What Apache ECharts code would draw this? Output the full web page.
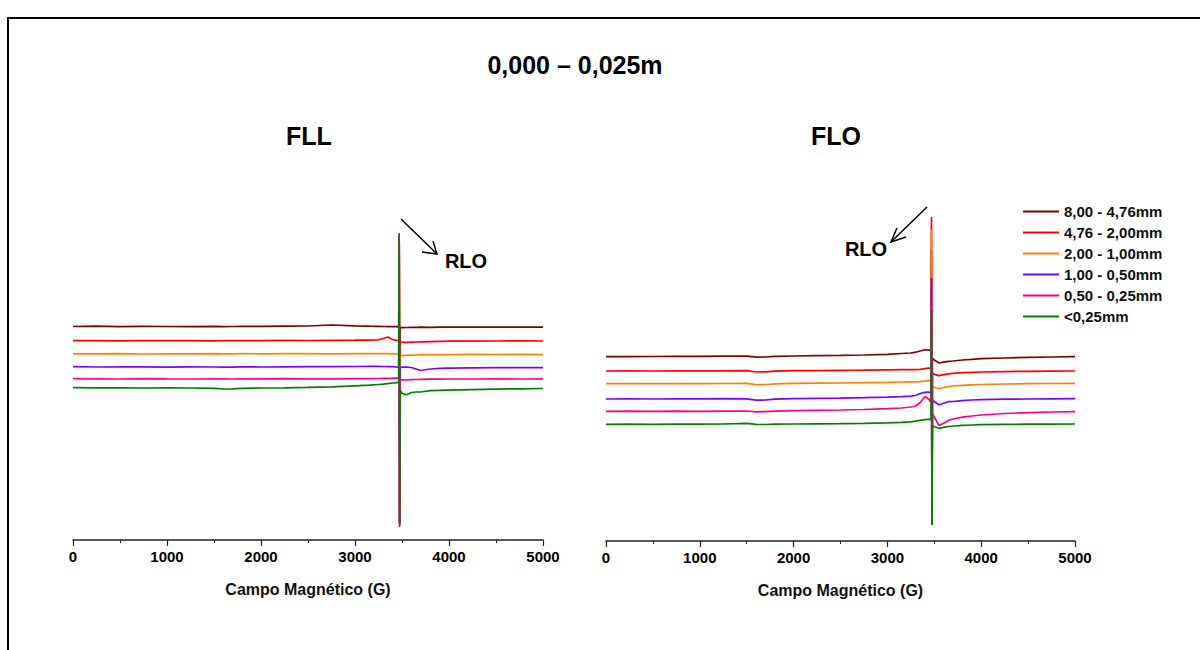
<!DOCTYPE html>
<html>
<head>
<meta charset="utf-8">
<title>EPR – 0,000 – 0,025m</title>
<script src="https://cdn.jsdelivr.net/npm/echarts@6/dist/echarts.min.js"></script>
<style>
  html, body { margin: 0; padding: 0; background: #fff; }
  #chart { width: 1200px; height: 650px; }
</style>
</head>
<body>
<div id="chart"></div>
<script>
// Magnetic field (G) sampling points shared by every spectrum
const fieldG = [0, 250, 500, 750, 1000, 1250, 1500, 1600, 1700, 1800, 2000, 2250, 2500, 2750, 3000,
  3150, 3250, 3300, 3350, 3400, 3440, 3465, 3470, 3475, 3480, 3500, 3550, 3600, 3650, 3700,
  3800, 3900, 4000, 4250, 4500, 4750, 5000];

// Particle-size fractions
const fractionLabels = ['8,00 - 4,76mm', '4,76 - 2,00mm', '2,00 - 1,00mm', '1,00 - 0,50mm', '0,50 - 0,25mm', '<0,25mm'];
const fractionColors = ['#800000', '#ff0000', '#ff8000', '#8000ff', '#ff0080', '#008000'];

// Field axis tick labels
const fieldTicks = [0, 1000, 2000, 3000, 4000, 5000];

// FLL spectra (signal intensity, a.u., offset per fraction)
const fll_800_476 = [213.5, 213.8, 213.4, 213.6, 213.5, 213.3, 213.6, 213.4, 213.5, 213.7, 213.6, 213.8, 214.0, 215.0, 214.2,
  213.8, 213.6, 213.5, 213.4, 213.4, 213.3, 213.2, 305, 18, 212.6, 212.4, 212.5, 212.7, 212.6, 212.8,
  212.7, 212.9, 212.8, 213.0, 212.8, 213.0, 212.9];
const fll_476_200 = [199.3, 199.4, 199.2, 199.5, 199.3, 199.4, 199.2, 199.3, 199.5, 199.3, 199.4, 199.6, 199.5, 199.7, 199.8,
  199.9, 200.2, 201.5, 203.0, 200.5, 199.6, 199.5, 303, 17, 198.0, 197.8, 197.6, 197.8, 198.0, 198.2,
  198.4, 198.6, 198.8, 198.9, 199.0, 199.1, 199.0];
const fll_200_100 = [186.2, 186.1, 186.3, 186.0, 186.2, 186.1, 186.3, 186.2, 186.1, 186.3, 186.2, 186.4, 186.3, 186.2, 186.4,
  186.3, 186.5, 186.4, 186.3, 186.2, 186.0, 185.8, 300, 16, 184.5, 184.4, 184.6, 184.8, 185.0, 185.1,
  185.3, 185.4, 185.5, 185.6, 185.5, 185.6, 185.5];
const fll_100_050 = [173.3, 173.0, 173.2, 173.1, 172.9, 173.1, 173.0, 172.8, 172.9, 173.1, 173.0, 173.2, 173.3, 173.4, 173.5,
  173.6, 173.6, 173.5, 173.4, 173.3, 173.0, 172.5, 302, 15, 172.5, 172.8, 172.9, 172.5, 171.0, 169.5,
  171.0, 171.6, 171.9, 172.2, 172.4, 172.5, 172.4];
const fll_050_025 = [161.4, 161.2, 161.0, 161.3, 161.1, 161.0, 161.2, 161.1, 161.0, 161.2, 161.1, 161.3, 161.2, 161.1, 161.3,
  161.4, 161.5, 161.6, 161.7, 161.8, 161.9, 162.0, 298, 17, 160.0, 160.2, 160.0, 160.3, 160.5, 160.7,
  160.8, 160.9, 161.0, 161.0, 161.1, 161.0, 161.1];
const fll_lt025 = [152.3, 152.1, 152.2, 152.0, 152.1, 152.0, 151.6, 151.0, 151.2, 151.7, 152.0, 152.2, 152.6, 153.2, 154.2,
  154.8, 155.5, 155.8, 156.3, 157.0, 157.4, 157.5, 307, 13, 150.0, 146.5, 145.2, 147.5, 148.0, 148.0,
  149.3, 149.6, 149.9, 150.4, 150.9, 151.2, 151.5];

// FLO spectra (signal intensity, a.u., offset per fraction)
const flo_800_476 = [184.3, 184.4, 184.5, 184.6, 184.7, 184.8, 184.9, 183.9, 184.0, 184.6, 185.0, 185.3, 185.6, 186.0, 186.6,
  187.5, 188.0, 188.8, 190.0, 191.2, 191.0, 190.2, 291, 20, 183.0, 181.0, 178.0, 178.8, 179.6, 180.0,
  181.0, 181.6, 182.3, 183.0, 183.6, 184.0, 184.3];
const flo_476_200 = [170.0, 170.1, 170.0, 170.2, 170.1, 170.2, 170.3, 169.0, 169.2, 169.9, 170.3, 170.4, 170.6, 170.8, 171.2,
  171.4, 171.5, 171.3, 171.6, 172.4, 172.8, 173.0, 324, 19, 167.8, 166.6, 165.4, 166.4, 167.2, 167.7,
  168.3, 168.7, 169.0, 169.4, 169.7, 169.9, 170.0];
const flo_200_100 = [157.3, 157.4, 157.3, 157.5, 157.4, 157.5, 157.6, 156.3, 156.5, 157.2, 157.6, 157.8, 158.0, 158.3, 158.7,
  159.0, 159.2, 159.0, 159.3, 160.0, 160.4, 160.5, 311, 18, 155.0, 153.7, 152.3, 153.5, 154.4, 155.0,
  155.6, 156.1, 156.5, 157.0, 157.3, 157.5, 157.7];
const flo_100_050 = [142.0, 142.1, 142.0, 142.2, 142.1, 142.3, 142.2, 140.8, 141.0, 141.9, 142.4, 142.6, 142.9, 143.3, 143.8,
  144.3, 144.8, 145.5, 147.5, 148.6, 148.8, 148.5, 263, 17, 141.5, 139.3, 136.2, 137.8, 139.3, 139.5,
  140.4, 141.0, 141.4, 141.8, 142.0, 142.2, 142.3];
const flo_050_025 = [129.7, 129.8, 129.6, 129.9, 129.7, 129.9, 130.0, 129.2, 129.4, 129.9, 130.4, 130.7, 131.0, 131.5, 132.3,
  133.0, 134.0, 135.0, 138.5, 144.2, 142.0, 138.5, 236, 18, 128.0, 124.0, 115.5, 117.8, 120.5, 122.0,
  123.8, 125.0, 126.0, 127.5, 128.4, 129.0, 129.3];
const flo_lt025 = [116.7, 116.8, 116.7, 116.9, 116.8, 117.0, 117.6, 116.6, 116.5, 116.8, 117.0, 117.2, 117.4, 117.7, 118.2,
  118.7, 119.2, 119.8, 120.6, 121.4, 121.7, 121.8, 231, 16, 115.5, 114.3, 112.7, 113.6, 114.5, 115.0,
  115.6, 116.0, 116.3, 116.6, 116.8, 116.9, 117.0];

const fllSpectra = [fll_800_476, fll_476_200, fll_200_100, fll_100_050, fll_050_025, fll_lt025];
const floSpectra = [flo_800_476, flo_476_200, flo_200_100, flo_100_050, flo_050_025, flo_lt025];

const FONT = '"Liberation Sans", Arial, Helvetica, sans-serif';

function pairUp(values) {
  return fieldG.map((g, i) => [g, values[i]]);
}

function buildSeries(spectra, axisIndex) {
  return spectra.map((vals, k) => ({
    name: fractionLabels[k],
    type: 'line',
    xAxisIndex: axisIndex,
    yAxisIndex: axisIndex,
    data: pairUp(vals),
    showSymbol: false,
    symbol: 'none',
    lineStyle: { color: fractionColors[k], width: 1.7 },
    itemStyle: { color: fractionColors[k] },
    emphasis: { disabled: true },
    animation: false
  }));
}

function fieldAxis(gridIndex) {
  return {
    type: 'value',
    gridIndex: gridIndex,
    min: 0,
    max: 5000,
    interval: 1000,
    name: 'Campo Magnético (G)',
    nameLocation: 'middle',
    nameGap: 41,
    nameTextStyle: { fontFamily: FONT, fontWeight: 'bold', fontSize: 16, color: '#111' },
    axisLine: { show: true, onZero: false, lineStyle: { color: '#222', width: 1.5 } },
    axisTick: { show: true, length: 6, lineStyle: { color: '#222', width: 1.2 } },
    minorTick: { show: true, splitNumber: 2, length: 3, lineStyle: { color: '#222', width: 1 } },
    splitLine: { show: false },
    axisLabel: {
      fontFamily: FONT, fontWeight: 'bold', fontSize: 15, color: '#000', margin: 9,
      formatter: v => (fieldTicks.indexOf(v) >= 0 ? String(v) : '')
    }
  };
}

function intensityAxis(gridIndex) {
  return { type: 'value', gridIndex: gridIndex, min: 0, max: 340, show: false, splitLine: { show: false } };
}

function label(text, x, y, size) {
  return {
    type: 'text',
    silent: true,
    style: { text: text, x: x, y: y, fill: '#000', font: 'bold ' + size + 'px ' + FONT,
      textAlign: 'center', textVerticalAlign: 'middle' }
  };
}

function arrow(x1, y1, x2, y2, ax1, ay1, ax2, ay2) {
  const st = { stroke: '#000', lineWidth: 1.5, fill: null };
  return [
    { type: 'line', silent: true, shape: { x1: x1, y1: y1, x2: x2, y2: y2 }, style: st },
    { type: 'polyline', silent: true, shape: { points: [[ax1, ay1], [x2, y2], [ax2, ay2]] }, style: st }
  ];
}

const chart = echarts.init(document.getElementById('chart'), null, { renderer: 'svg' });

chart.setOption({
  backgroundColor: '#fff',
  animation: false,
  grid: [
    { left: 73, top: 200, width: 470, height: 340 },
    { left: 606, top: 201, width: 469, height: 340 }
  ],
  xAxis: [fieldAxis(0), fieldAxis(1)],
  yAxis: [intensityAxis(0), intensityAxis(1)],
  legend: {
    orient: 'vertical',
    left: 1018,
    top: 199,
    itemWidth: 36,
    itemHeight: 2,
    itemGap: 6,
    icon: 'rect',
    selectedMode: false,
    data: fractionLabels,
    textStyle: { fontFamily: FONT, fontWeight: 'bold', fontSize: 15, color: '#111', lineHeight: 15 }
  },
  series: buildSeries(fllSpectra, 0).concat(buildSeries(floSpectra, 1)),
  graphic: [
    // outer frame
    { type: 'rect', silent: true, shape: { x: 8, y: 18, width: 1400, height: 900 },
      style: { stroke: '#000', lineWidth: 2, fill: null } },
    label('0,000 – 0,025m', 575, 65, 25),
    label('FLL', 309, 136, 25),
    label('FLO', 836, 136, 25),
    label('RLO', 466, 261, 20),
    label('RLO', 866, 249, 20)
  ].concat(
    arrow(401, 219, 437, 254, 422, 252, 433, 241),
    arrow(927, 207, 891, 242, 906, 237, 897, 228)
  )
});
</script>
</body>
</html>
